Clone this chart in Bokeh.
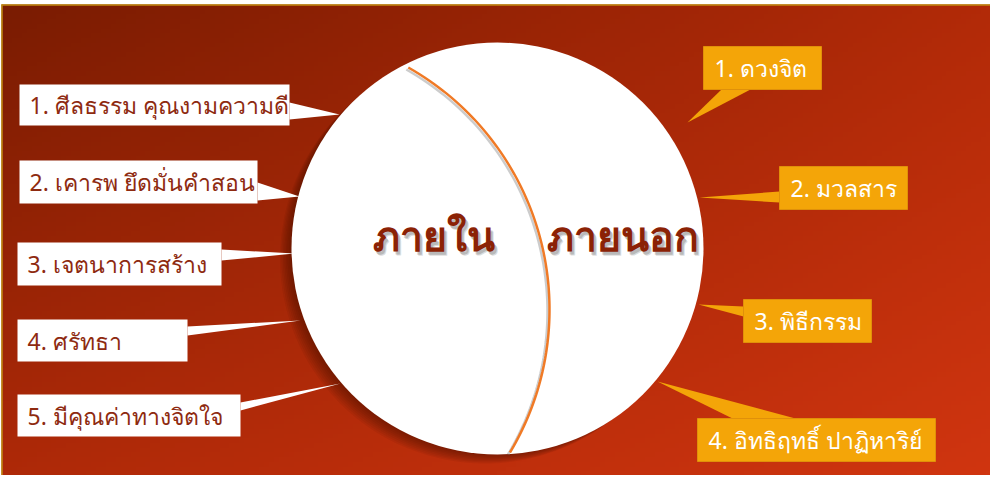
import numpy as np
from bokeh.plotting import figure
from bokeh.models import Range1d
from bokeh.core.properties import value
from bokeh.embed import file_html
from bokeh.resources import INLINE

# ---- content ----
center_labels = ["ภายใน", "ภายนอก"]
inner_labels = ["1. ศีลธรรม คุณงามความดี", "2. เคารพ ยึดมั่นคำสอน", "3. เจตนาการสร้าง",
                "4. ศรัทธา", "5. มีคุณค่าทางจิตใจ"]
outer_labels = ["1. ดวงจิต", "2. มวลสาร", "3. พิธีกรรม", "4. อิทธิฤทธิ์ ปาฏิหาริย์"]

# ---- layout (screen-like coordinates, y grows downward) ----
left_box_x0 = [27, 27, 25, 25, 25]
left_box_x1 = [297, 265, 229, 195, 248]
left_box_y0 = [92, 168, 250, 327, 402]
left_box_y1 = [133, 211, 293, 369, 444]
left_ptr_xs = [[297, 297, 347], [265, 265, 307], [229, 229, 302], [195, 195, 308], [248, 248, 348]]
left_ptr_ys = [[110, 127, 122], [190, 208, 204], [257, 268, 261], [334, 343, 328], [410, 418, 391]]

right_box_x0 = [711, 787, 751, 705]
right_box_x1 = [829, 915, 879, 943]
right_box_y0 = [54, 174, 307, 426]
right_box_y1 = [97, 217, 350, 469]
right_ptr_xs = [[729, 758, 695], [787, 787, 707], [751, 751, 706], [740, 803, 665]]
right_ptr_ys = [[97, 97, 130], [199, 210, 205], [314, 324, 312], [426, 426, 389]]

circle_cx, circle_cy, circle_r = 505, 256, 206
div_cx, div_cy, div_r = 279, 317, 278
div_y_top, div_y_bot = 75, 460
center_text_x = [380, 554]
center_text_y = [242, 242]

FONT = value("Noto Sans")
W, H = 990, 475
p = figure(width=W, height=H, x_range=Range1d(8, 998), y_range=Range1d(483, 8),
           output_backend="svg", toolbar_location=None, min_border=0,
           x_axis_location=None, y_axis_location=None)
p.grid.visible = False
p.outline_line_color = None
p.background_fill_color = "white"
p.border_fill_color = "white"

# background gradient panel
nx, ny = 200, 100
u = np.linspace(0, 1, nx)[None, :]
v = np.linspace(0, 1, ny)[:, None]
TL = np.array([0x7a, 0x1c, 0x02]); TR = np.array([0xb2, 0x2a, 0x08])
BL = np.array([0xae, 0x29, 0x08]); BR = np.array([0xd0, 0x35, 0x10])
col = ((1 - u)[..., None] * (1 - v)[..., None] * TL + u[..., None] * (1 - v)[..., None] * TR
       + (1 - u)[..., None] * v[..., None] * BL + u[..., None] * v[..., None] * BR)
col = col.astype(np.uint32)
img = (255 << 24) | (col[..., 2] << 16) | (col[..., 1] << 8) | col[..., 0]
img = img.astype(np.uint32)
p.image_rgba(image=[img], x=9, y=12, dw=989, dh=471)
p.line([9, 998], [12.5, 12.5], line_color="#c08a10", line_width=1.5)
p.line([9.5, 9.5], [12, 483], line_color="#c08a10", line_width=1.5)

# circle shadow (soft, toward lower-left)
for k in range(8):
    off = 2 + 1.5 * k
    p.circle(x=circle_cx - off, y=circle_cy + off * 0.8, radius=circle_r - 1,
             fill_color="#3a0800", fill_alpha=0.07, line_color=None)
p.circle(x=circle_cx, y=circle_cy, radius=circle_r, fill_color="white", line_color=None)

# divider arc
yy = np.linspace(div_y_top, div_y_bot, 120)
xx = div_cx + np.sqrt(div_r ** 2 - (yy - div_cy) ** 2)
p.line(xx - 2, yy + 2, line_color="#808080", line_alpha=0.4, line_width=2.5)
p.line(xx, yy, line_color="#f07a26", line_width=2.5)

# center texts
for dx, dy, a in [(3, 4, 0.25), (2, 3, 0.35)]:
    p.text(x=[x + dx for x in center_text_x], y=[y + dy for y in center_text_y], text=center_labels,
           text_font=FONT, text_font_size="41px", text_font_style="bold", text_color="#777777",
           text_alpha=a, text_baseline="middle", text_align="left")
p.text(x=center_text_x, y=center_text_y, text=center_labels,
       text_font=FONT, text_font_size="41px", text_font_style="bold", text_color="#8b2205",
       text_baseline="middle", text_align="left")

# left callouts
p.patches(left_ptr_xs, left_ptr_ys, fill_color="white", line_color=None)
p.quad(left=left_box_x0, right=left_box_x1, top=left_box_y0, bottom=left_box_y1,
       fill_color="white", line_color=None)
p.text(x=[x + 10 for x in left_box_x0], y=[(a + b) / 2 for a, b in zip(left_box_y0, left_box_y1)],
       text=inner_labels, text_font=FONT, text_font_size="23px", text_color="#8e2a10",
       text_baseline="middle", text_align="left")

# right callouts
p.patches(right_ptr_xs, right_ptr_ys, fill_color="#f4a508", line_color=None)
p.quad(left=right_box_x0, right=right_box_x1, top=right_box_y0, bottom=right_box_y1,
       fill_color="#f4a508", line_color="#e0900a", line_width=1)
p.text(x=[x + 11 for x in right_box_x0], y=[(a + b) / 2 for a, b in zip(right_box_y0, right_box_y1)],
       text=outer_labels, text_font=FONT, text_font_size="23px", text_color="white",
       text_baseline="middle", text_align="left")

open("out.html", "w").write(file_html(p, INLINE))
